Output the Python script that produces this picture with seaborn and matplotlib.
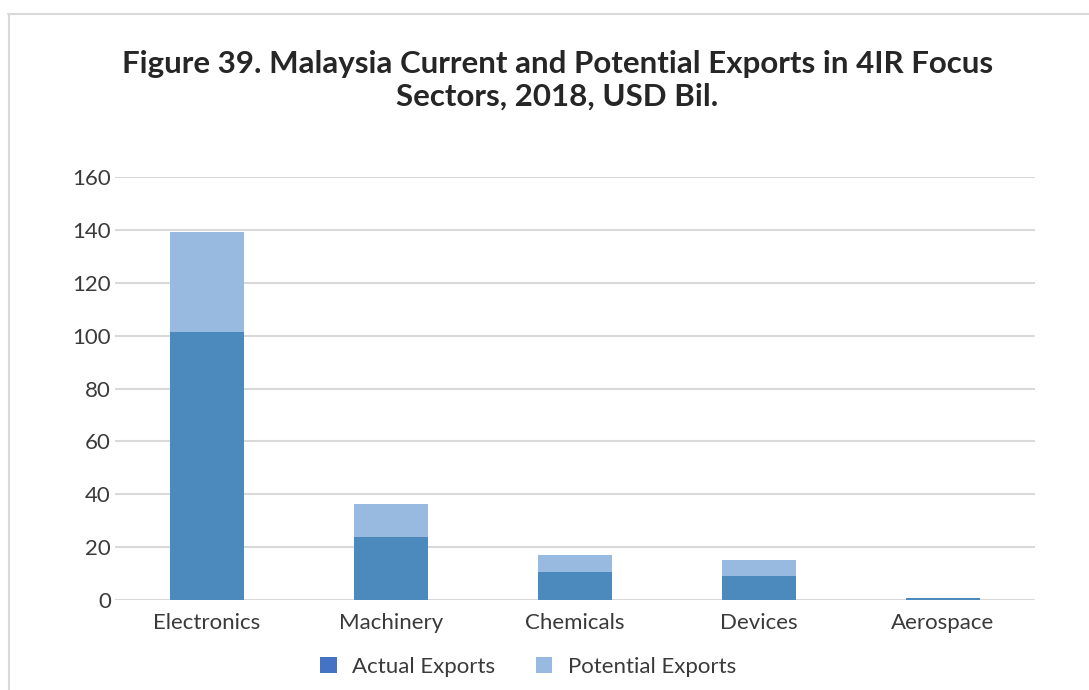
import matplotlib
matplotlib.use("Agg")
import matplotlib.pyplot as plt
from matplotlib.patches import Patch
from matplotlib.lines import Line2D
import seaborn as sns
import pandas as pd

sectors = ["Electronics", "Machinery", "Chemicals", "Devices", "Aerospace"]
actual_exports = [101.5, 24.0, 10.7, 9.1, 0.8]
potential_exports = [37.8, 12.4, 6.2, 6.1, 0.1]
y_ticks = [0, 20, 40, 60, 80, 100, 120, 140, 160]

df = pd.DataFrame({
    "sector": sectors,
    "actual": actual_exports,
    "total": [a + p for a, p in zip(actual_exports, potential_exports)],
})

sns.set_theme(style="white")
plt.rcParams["font.family"] = ["Lato", "DejaVu Sans"]

dark_blue = "#4C89BD"
light_blue = "#98B9E0"
legend_dark = "#4472C4"
text_color = "#3A3A3A"
grid_color = "#D9D9D9"

fig = plt.figure(figsize=(10.89, 6.9), dpi=100)
ax = fig.add_axes([0.1056, 0.1304, 0.8448, 0.6131])

# stacked bars: total (actual + potential) behind, actual in front
sns.barplot(data=df, x="sector", y="total", color=light_blue, saturation=1,
            width=0.4, linewidth=0, ax=ax, zorder=2)
sns.barplot(data=df, x="sector", y="actual", color=dark_blue, saturation=1,
            width=0.4, linewidth=0, ax=ax, zorder=3)

ax.set_ylim(0, 160)
ax.set_xlim(-0.5, len(sectors) - 0.5)
ax.set_yticks(y_ticks)
ax.set_yticklabels([str(t) for t in y_ticks])
ax.yaxis.grid(True, color=grid_color, linewidth=1.5, zorder=0)
ax.set_axisbelow(True)
for s in ax.spines.values():
    s.set_visible(False)
ax.set_xlabel("")
ax.set_ylabel("")
ax.tick_params(axis="both", length=0, labelsize=16, labelcolor=text_color)
ax.tick_params(axis="x", pad=9)
ax.tick_params(axis="y", pad=3)

fig.text(0.512, 0.884, "Figure 39. Malaysia Current and Potential Exports in 4IR Focus\nSectors, 2018, USD Bil.",
         ha="center", va="center", fontsize=22.5, fontweight="bold", color="#262626",
         linespacing=1.2)

handles = [Patch(facecolor=legend_dark, edgecolor="none", label="Actual Exports"),
           Patch(facecolor=light_blue, edgecolor="none", label="Potential Exports")]
fig.legend(handles=handles, loc="center", bbox_to_anchor=(0.485, 0.034), ncol=2,
           frameon=False, fontsize=16, handlelength=0.75, handleheight=0.75,
           handletextpad=0.7, columnspacing=1.8, labelcolor=text_color)

# page frame along the top and left edges
fig.add_artist(Line2D([0.0078, 1.0], [0.980, 0.980], color="#D9D9D9", linewidth=1.5,
                      transform=fig.transFigure))
fig.add_artist(Line2D([0.0083, 0.0083], [0.0, 0.980], color="#D9D9D9", linewidth=1.5,
                      transform=fig.transFigure))

fig.savefig("out.png", dpi=100)
